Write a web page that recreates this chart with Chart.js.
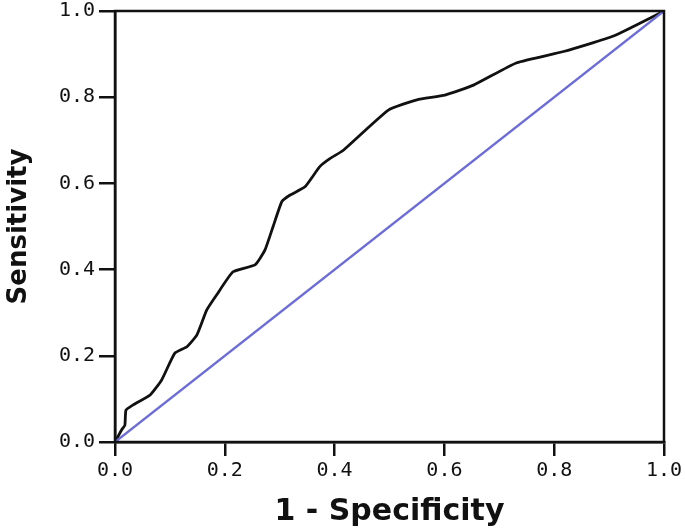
<!DOCTYPE html>
<html>
<head>
<meta charset="utf-8">
<script src="https://cdn.jsdelivr.net/npm/chart.js@4/dist/chart.umd.min.js"></script>
<style>
	html, body { margin: 0; padding: 0; background: #fff; }
	#wrap { width: 685px; height: 530px; }
</style>
</head>
<body>
<div id="wrap"><canvas id="roc" width="685" height="530"></canvas></div>
<script>
// ROC curve
const rocFpr = [0, 0.012, 0.018, 0.020, 0.033, 0.064, 0.085, 0.109, 0.131, 0.149, 0.167, 0.185, 0.215, 0.255, 0.273, 0.288, 0.304, 0.319, 0.346, 0.373, 0.392, 0.416, 0.498, 0.550, 0.601, 0.653, 0.732, 0.817, 0.908, 1];
const rocTpr = [0, 0.028, 0.039, 0.074, 0.086, 0.109, 0.144, 0.206, 0.221, 0.248, 0.306, 0.341, 0.395, 0.411, 0.445, 0.500, 0.558, 0.573, 0.592, 0.639, 0.658, 0.677, 0.770, 0.794, 0.805, 0.828, 0.880, 0.906, 0.942, 1];

// reference (chance) line
const refX = [0, 1];
const refY = [0, 1];

const xTitle = '1 - Specificity';
const yTitle = 'Sensitivity';

const toPoints = (xs, ys) => xs.map((x, i) => ({ x: x, y: ys[i] }));

// closes the box round the plot area
const frame = {
	id: 'frame',
	afterDatasetsDraw(chart) {
		const a = chart.chartArea, ctx = chart.ctx;
		ctx.save();
		ctx.strokeStyle = '#111';
		ctx.lineWidth = 2.5;
		ctx.strokeRect(a.left, a.top, a.right - a.left, a.bottom - a.top);
		ctx.restore();
	}
};

const tickFont = { family: '"DejaVu Sans Mono", monospace', size: 20, lineHeight: 1 };
const titleFont = { family: '"DejaVu Sans", sans-serif', weight: 'bold' };

new Chart(document.getElementById('roc'), {
	type: 'line',
	data: {
		datasets: [{
			data: toPoints(refX, refY),
			borderColor: '#6c6cd8',
			borderWidth: 2.4,
			pointRadius: 0,
			tension: 0
		},{
			data: toPoints(rocFpr, rocTpr),
			borderColor: '#111',
			borderWidth: 2.8,
			pointRadius: 0,
			tension: 0.15
		}]
	},
	options: {
		responsive: false,
		animation: false,
		layout: { padding: { top: 11, right: 21, left: 0, bottom: 0 } },
		plugins: {
			legend: { display: false },
			tooltip: { enabled: false }
		},
		scales: {
			x: {
				type: 'linear',
				min: 0,
				max: 1,
				afterFit: (s) => {
					s.height = 88;
					s.paddingLeft = 0;
					s.paddingRight = 0;
				},
				border: { display: true, color: '#111', width: 2.5 },
				grid: { drawOnChartArea: false, drawTicks: true, tickLength: 14, color: '#111', lineWidth: 2.5 },
				ticks: {
					stepSize: 0.2,
					autoSkip: false,
					maxRotation: 0,
					padding: 5,
					color: '#111',
					font: tickFont,
					callback: (v) => v.toFixed(1)
				},
				title: {
					display: true,
					text: xTitle,
					color: '#111',
					font: { ...titleFont, size: 30 },
					padding: { top: 0, bottom: 0 }
				}
			},
			y: {
				type: 'linear',
				min: 0,
				max: 1,
				afterFit: (s) => {
					s.width = 115;
					s.paddingTop = 0;
					s.paddingBottom = 0;
				},
				border: { display: true, color: '#111', width: 2.5 },
				grid: { drawOnChartArea: false, drawTicks: true, tickLength: 16, color: '#111', lineWidth: 2.5 },
				ticks: {
					stepSize: 0.2,
					autoSkip: false,
					padding: 4,
					color: '#111',
					font: tickFont,
					callback: (v) => v.toFixed(1)
				},
				title: {
					display: true,
					text: yTitle,
					color: '#111',
					font: { ...titleFont, size: 26 },
					padding: { top: 4, bottom: 0 }
				}
			}
		}
	},
	plugins: [frame]
});
</script>
</body>
</html>
